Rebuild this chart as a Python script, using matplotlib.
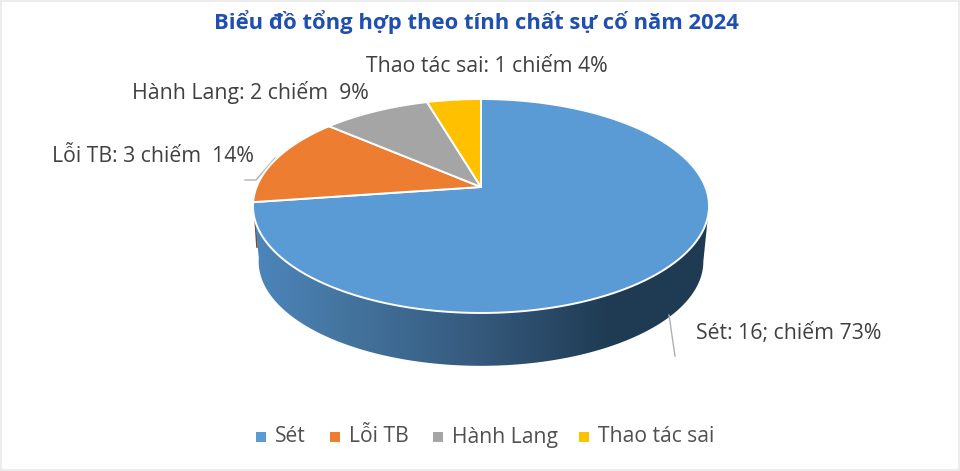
import numpy as np
import matplotlib
matplotlib.use("Agg")
import matplotlib.pyplot as plt
from matplotlib.colors import LinearSegmentedColormap
from matplotlib.patches import Polygon, Rectangle

plt.rcParams['font.family'] = ['Open Sans', 'DejaVu Sans']

categories = ['Sét', 'Lỗi TB', 'Hành Lang', 'Thao tác sai']
values = [16, 3, 2, 1]
slice_labels = ['Sét: 16; chiếm 73%', 'Lỗi TB: 3 chiếm  14%',
                'Hành Lang: 2 chiếm  9%', 'Thao tác sai: 1 chiếm 4%']
colors = ['#5b9bd5', '#ed7d31', '#a5a5a5', '#ffc000']
title = 'Biểu đồ tổng hợp theo tính chất sự cố năm 2024'

# perspective pie, everything in reference pixels
CX, CY = 481, 187
A, B, K = 224.4, 103.6, 0.1776
DEPTH, SHRINK = 56, 0.975


def project(t, lower=False):
    w = 1 + K * np.sin(t)
    x = A * np.cos(t) / w
    y = B * np.sin(t) / w
    if lower:
        return CX + SHRINK * x, CY + DEPTH - SHRINK * y
    return CX + x, CY - y


fig = plt.figure(figsize=(9.6, 4.71), dpi=100)
ax = fig.add_axes([0, 0, 1, 1])
ax.set_xlim(0, 960)
ax.set_ylim(471, 0)
ax.axis('off')

total = sum(values)
edges = np.pi / 2 - 2 * np.pi * np.cumsum([0] + values) / total

# side wall of the big slice: one gradient clipped to the wall outline,
# starting where the rim is widest so the right silhouette is straight
side_cmap = LinearSegmentedColormap.from_list('side', [
    (0.00, '#4d86bd'), (0.20, '#44759f'), (0.50, '#35597c'),
    (0.78, '#1f3b53'), (1.00, '#1f3b53')])
ts = np.linspace(-np.arcsin(K), edges[1], 300)
ux, uy = project(ts)
lx, ly = project(ts, lower=True)
wall = Polygon(np.column_stack([np.r_[ux, lx[::-1]], np.r_[uy, ly[::-1]]]),
               closed=True, fc='none', ec='none', transform=ax.transData)
ax.add_patch(wall)
img = ax.imshow(np.linspace(0, 1, 512)[None, :], cmap=side_cmap, aspect='auto',
                extent=(250, 712, 380, 190), zorder=2)
img.set_clip_path(wall)
ax.set_xlim(0, 960)
ax.set_ylim(471, 0)

# small dark orange sliver behind the left edge
ax.plot([254, 257], [203, 247], color='#7a4a2a', lw=1.2, zorder=1.5)

# top face
for i, col in enumerate(colors):
    t = np.linspace(edges[i], edges[i + 1], 200)
    px, py = project(t)
    pts = np.column_stack([np.r_[CX, px], np.r_[CY, py]])
    ax.add_patch(Polygon(pts, closed=True, fc=col, ec='white', lw=1.4,
                         joinstyle='round', zorder=3))

# leader lines
ax.plot([669, 675], [315, 356], color='#b0b0b0', lw=1, zorder=4)
ax.plot([245, 256, 275], [180, 180, 158], color='#b0b0b0', lw=1, zorder=1)

ax.text(476, 22, title, color='#1f4fb0', fontsize=15.8, fontweight='bold',
        ha='center', va='center')
label_pos = [(788.5, 333), (153, 156), (250, 92.5), (486.5, 66)]
for s, (x, y) in zip(slice_labels, label_pos):
    ax.text(x, y, s, color='#404040', fontsize=15.3, ha='center', va='center')

# legend
leg_x = [261, 335, 438, 584]
for name, col, x in zip(categories, colors, leg_x):
    ax.scatter([x], [437], marker='s', s=50, color=col, lw=0)
    ax.text(x + 14, 437, name, color='#505050', fontsize=15.2, va='center')

# faint frame of the screenshot
ax.add_patch(Rectangle((0.5, 0.5), 958.5, 469, fc='none', ec='#ececec', lw=1.5))

fig.savefig('out.png', dpi=100)
